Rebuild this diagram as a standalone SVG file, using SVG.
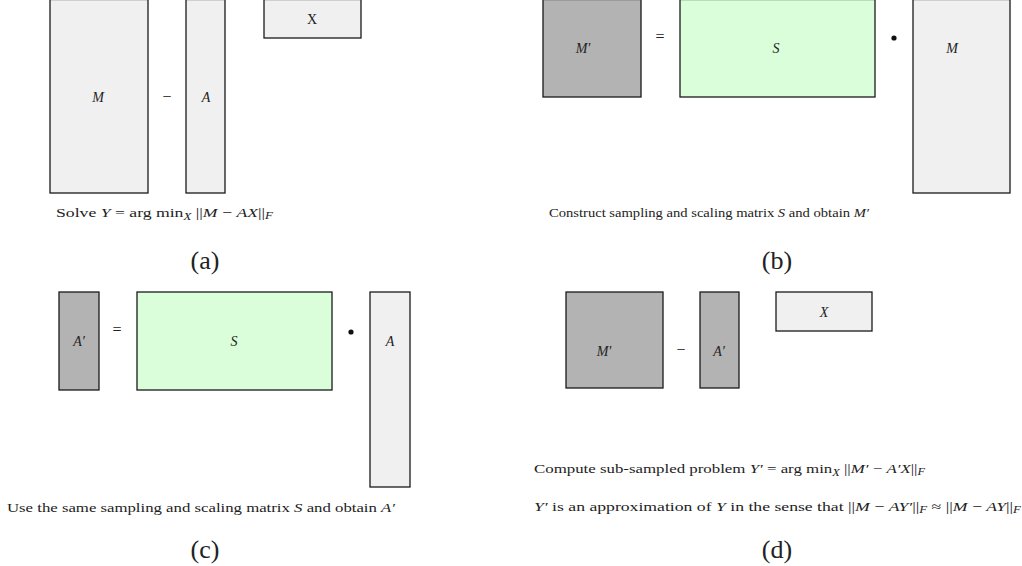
<svg xmlns="http://www.w3.org/2000/svg" width="1022" height="566" viewBox="0 0 1022 566">
<style>
.m{stroke:#1a1a1a;stroke-width:1.3}
.lt{fill:#f0f0f0}
.dk{fill:#b3b3b3}
.gr{fill:#d9fed9}
text{font-family:"Liberation Serif","DejaVu Serif",serif;fill:#222}
.lab{font-size:14px;font-style:italic;text-anchor:middle}
.op{font-size:16px;text-anchor:middle}
.cap{font-size:13px}
.i{font-style:italic}
.sub{font-size:9.5px;font-style:italic}
.pl{font-size:26px;text-anchor:middle}
</style>
<rect width="1022" height="566" fill="#fff"/>
<!-- Panel a -->
<g id="a-M"><rect class="m lt" x="50" y="-0.5" width="98" height="193.5"/><text class="lab" x="98" y="102">M</text></g>
<text class="op" x="167" y="102">−</text>
<g id="a-X"><rect class="m lt" x="264" y="-0.5" width="97" height="38.5"/><text class="lab" x="312" y="24" style="font-style:normal">X</text></g>
<g id="a-A"><rect class="m lt" x="186" y="-0.5" width="39" height="193.5"/><text class="lab" x="206" y="102">A</text></g>
<text class="cap" x="56" y="217" textLength="217" lengthAdjust="spacingAndGlyphs">Solve <tspan class="i">Y</tspan> = arg min<tspan class="sub" dy="3">X</tspan><tspan dy="-3"> ||</tspan><tspan class="i">M</tspan> − <tspan class="i">AX</tspan>||<tspan class="sub" dy="2">F</tspan></text>
<text class="pl" x="205" y="269">(a)</text>
<!-- Panel b -->
<g id="b-Mp"><rect class="m dk" x="543" y="-0.5" width="98" height="97.5"/><text class="lab" x="583" y="53">M′</text></g>
<text class="op" x="660" y="42">=</text>
<g id="b-S"><rect class="m gr" x="680" y="-0.5" width="195" height="97.5"/><text class="lab" x="776" y="53">S</text></g>
<circle cx="894" cy="38" r="2.6" fill="#111"/>
<g id="b-M"><rect class="m lt" x="913" y="-0.5" width="97" height="193.5"/><text class="lab" x="952" y="53">M</text></g>
<text class="cap" x="549" y="217" textLength="320" lengthAdjust="spacingAndGlyphs">Construct sampling and scaling matrix <tspan class="i">S</tspan> and obtain <tspan class="i">M′</tspan></text>
<text class="pl" x="777" y="269">(b)</text>
<!-- Panel c -->
<g id="c-Ap"><rect class="m dk" x="59" y="292" width="40" height="98"/><text class="lab" x="79" y="346">A′</text></g>
<text class="op" x="117" y="335">=</text>
<g id="c-S"><rect class="m gr" x="137" y="292" width="195" height="98"/><text class="lab" x="234" y="346">S</text></g>
<circle cx="351" cy="332" r="2.6" fill="#111"/>
<g id="c-A"><rect class="m lt" x="370" y="292" width="40" height="195"/><text class="lab" x="390" y="346">A</text></g>
<text class="cap" x="7" y="512" textLength="388" lengthAdjust="spacingAndGlyphs">Use the same sampling and scaling matrix <tspan class="i">S</tspan> and obtain <tspan class="i">A′</tspan></text>
<text class="pl" x="205" y="558">(c)</text>
<!-- Panel d -->
<g id="d-Mp"><rect class="m dk" x="566" y="292" width="97" height="96"/><text class="lab" x="604" y="356">M′</text></g>
<text class="op" x="681" y="355">−</text>
<g id="d-Ap"><rect class="m dk" x="700" y="292" width="39" height="96"/><text class="lab" x="719" y="356">A′</text></g>
<g id="d-X"><rect class="m lt" x="776" y="292" width="96" height="39"/><text class="lab" x="824" y="317">X</text></g>
<text class="cap" x="534" y="473" textLength="391" lengthAdjust="spacingAndGlyphs">Compute sub-sampled problem <tspan class="i">Y′</tspan> = arg min<tspan class="sub" dy="3">X</tspan><tspan dy="-3"> ||</tspan><tspan class="i">M′</tspan> − <tspan class="i">A′X</tspan>||<tspan class="sub" dy="2">F</tspan></text>
<text class="cap" x="534" y="511" textLength="487" lengthAdjust="spacingAndGlyphs"><tspan class="i">Y′</tspan> is an approximation of <tspan class="i">Y</tspan> in the sense that ||<tspan class="i">M</tspan> − <tspan class="i">AY′</tspan>||<tspan class="sub" dy="2">F</tspan><tspan dy="-2"> ≈ ||</tspan><tspan class="i">M</tspan> − <tspan class="i">AY</tspan>||<tspan class="sub" dy="2">F</tspan></text>
<text class="pl" x="777" y="558">(d)</text>
</svg>
